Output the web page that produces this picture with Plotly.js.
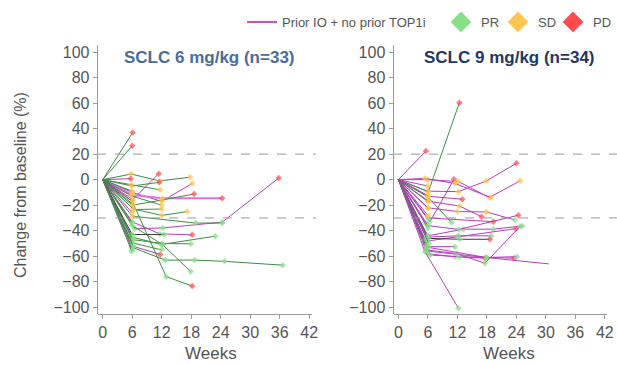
<!DOCTYPE html>
<html><head><meta charset="utf-8">
<script src="https://cdn.plot.ly/plotly-3.0.1.min.js"></script>
<style>html,body{margin:0;padding:0;background:#fff}#chart{width:617px;height:365px}</style>
</head><body><div id="chart"></div>
<script>
const weekTicks = [0, 6, 12, 18, 24, 30, 36, 42];
const pctTicks = [-100, -80, -60, -40, -20, 0, 20, 40, 60, 80, 100];
const refLines = [20, -30];
const panelTitles = ['SCLC 6 mg/kg (n=33)', 'SCLC 9 mg/kg (n=34)'];
const legendNames = ['Prior IO + no prior TOP1i', 'PR', 'SD', 'PD'];

// 6 mg/kg panel: one entry per patient (week, % change, response, group)
const leftWeeks = [
  [0,6.1],[0,6],[0,5.8,11.6,17.8],[0,5.7],[0,6.1,11.4],[0,5.9,11.5],[0,6,12,18.2],
  [0,6,12.2,24.3],[0,6,12,18.6],[0,6.2,12,17.2],[0,6.5,12.2,24.3,35.8],[0,6,18.9,24.3],
  [0,6,11.6,18.2],[0,6,11.9,22.9],[0,6.2,12,17.9],[0,6,11.7],[0,6,12.7,18.7,24.8,36.6],
  [0,6,12.2,17.9],[0,6,12.9,18.2],[0,5.8,11.7],[0,6],[0,5.7,12],[0,6],[0,6.2],
  [0,6.3,12],[0,6],[0,6],[0,6,12.5],[0,6],[0,6,12],[0,6.2],[0,6],[0,5.9]
];
const leftValues = [
  [0,37],[0,26.5],[0,4.4,-1,2],[0,0.8],[0,-15.6,4.7],[0,-5,-2.1],[0,-10,-17,-3],
  [0,-12,-14.5,-14.5],[0,-20,-16,-11.2],[0,-23,-28,-25],[0,-38.5,-37.8,-33.3,1.3],[0,-28.6,-34,-34],
  [0,-33,-42.5,-43.2],[0,-45,-50.8,-44.3],[0,-47,-50,-50.3],[0,-52,-58.6],[0,-53,-63,-63,-64,-67],
  [0,-36,-51,-72],[0,-17,-76,-83.3],[0,-3.9,-8],[0,-9.1],[0,-12.5,-20],[0,-16.9],[0,-19.5],
  [0,-23.4,-23],[0,-26],[0,-33.9],[0,-43,-43],[0,-46.9],[0,-49.5,-55],[0,-52],[0,-55],[0,-56]
];
const leftResp = [
  ['','PD'],['','PD'],['','SD','SD','SD'],['','PD'],['','SD','PD'],['','SD','PD'],['','SD','SD','SD'],
  ['','SD','SD','PD'],['','SD','SD','PD'],['','SD','SD','SD'],['','PR','PR','PR','PD'],['','SD','PR','PR'],
  ['','PR','PR','PD'],['','PR','PR','PR'],['','PR','PR','PR'],['','PR','PD'],['','PR','PR','PR','PR','PR'],
  ['','PR','PR','PR'],['','SD','PR','PD'],['','SD','SD'],['','SD'],['','SD','SD'],['','SD'],['','SD'],
  ['','SD','SD'],['','SD'],['','PR'],['','PR','PR'],['','PR'],['','PR','PR'],['','PR'],['','PR'],['','PR']
];
const leftGroup = [
  'other','other','other','prior','prior','other','prior',
  'pink','other','other','prior','other',
  'prior','other','other','prior','other',
  'other','other','other','other','other','prior','other',
  'other','prior','other','dark','other','other','other','prior','other'
];

// 9 mg/kg panel
const rightWeeks = [
  [0,5.8,12.2,17.9,24],[0,6,12.2,18.5,24.8],[0,6.4,11.3],[0,5.6],[0,6.1,12.4],[0,5.4,11.5,18.9],
  [0,6,13],[0,6,10.8],[0,6.2,12.4,16.9],[0,6,12,17.9,23.7],[0,6,19.3],[0,6,13.2,19.3,25.2],
  [0,6,23.9],[0,6,12.2,18.9],[0,6,12.5,18.6],[0,6,11.5],[0,6,11.5,17.6],[0,6.5,12.4,23.5],
  [0,6,17.9,24.1],[0,5.6,11.9,17.6,24.8],[0,6,17.9,30.6],[0,5.4,12.2],[0,6],[0,6],[0,6],
  [0,5.5],[0,6],[0,5.8],[0,5.4],[0,6.2],[0,5.6],[0,6],[0,6],[0,6,12.3,24.4]
];
const rightValues = [
  [0,-9,-9.4,-1,12.8],[0,0,-1.5,-14,-0.8],[0,-33,0.3],[0,22.5],[0,-9.4,60.3],[0,1,-3,-14.1],
  [0,-13,-15.3],[0,-13.6,-33.6],[0,-17,-20.6,-29],[0,-22,-25,-25.3,-31.6],[0,-30,-32.9],[0,-44,-38.8,-38.8,-36.3],
  [0,-48,-38.4],[0,-45,-44,-44],[0,-46,-46.7,-46.7],[0,-52.5,-52.5],[0,-58,-60.4,-61.5],[0,-59,-60.4,-61.5],
  [0,-56,-61,-60.3],[0,-55,-58,-65.5,-36.5],[0,-53,-61,-66],[0,-56.4,-100.7],[0,-12.5],[0,-17.2],[0,-22.4],
  [0,-34],[0,-38],[0,-44.6],[0,-47],[0,-50],[0,-52],[0,-28],[0,-5],[0,-36,-39,-27.9]
];
const rightResp = [
  ['','SD','SD','SD','PD'],['','SD','SD','SD','SD'],['','PR','PD'],['','PD'],['','SD','PD'],['','SD','SD','SD'],
  ['','SD','PD'],['','SD','PR'],['','SD','SD','PD'],['','SD','SD','SD','PR'],['','PR','PD'],['','PR','PR','PR','PR'],
  ['','PR','PD'],['','PR','PR','PR'],['','PR','PR','PD'],['','PR','PR'],['','PR','PR','PD'],['','PR','PR','PD'],
  ['','PR','PR','PR'],['','PR','PR','PR','PR'],['','PR','PR',''],['','PR','PR'],['','SD'],['','SD'],['','SD'],
  ['','PR'],['','PR'],['','PR'],['','PR'],['','PR'],['','PR'],['','SD'],['','SD'],['','PR','PR','PD']
];
const rightGroup = [
  'prior','prior','prior','prior','other','prior',
  'prior','other','prior','prior','prior','prior',
  'prior','prior','dark','prior','prior','prior',
  'prior','prior','prior','prior','prior','other','prior',
  'other','prior','other','prior','prior','other','prior','prior','prior'
];

const respColors = {PR: '#86e086', SD: '#ffc44f', PD: '#ff4b4b', '': 'rgba(0,0,0,0)'};
const groupStyle = {
  other: {color: '#3f8c45', width: 1},
  prior: {color: '#b43cbf', width: 1},
  pink:  {color: '#e56ee8', width: 2},
  dark:  {color: '#3b3b3b', width: 1}
};

function panelTraces(weeks, values, resp, group, xa, ya) {
  return weeks.map((w, i) => ({
    type: 'scatter', mode: 'lines+markers', x: w, y: values[i],
    xaxis: xa, yaxis: ya, showlegend: false, hoverinfo: 'skip',
    line: {color: groupStyle[group[i]].color, width: groupStyle[group[i]].width},
    marker: {symbol: 'diamond', size: resp[i].map(r => r ? 5 : 0),
             color: resp[i].map(r => respColors[r]), line: {width: 0}}
  }));
}

const traces = [].concat(
  panelTraces(leftWeeks, leftValues, leftResp, leftGroup, 'x', 'y'),
  panelTraces(rightWeeks, rightValues, rightResp, rightGroup, 'x2', 'y2')
);
traces.push({type: 'scatter', mode: 'lines', x: [null], y: [null], name: legendNames[0],
  line: {color: '#c84bcc', width: 2}, legend: 'legend', showlegend: true});
traces.push({type: 'scatter', mode: 'markers', x: [null], y: [null], name: legendNames[1],
  marker: {symbol: 'diamond', size: 16, color: respColors.PR}, legend: 'legend2', showlegend: true});
traces.push({type: 'scatter', mode: 'markers', x: [null], y: [null], name: legendNames[2],
  marker: {symbol: 'diamond', size: 16, color: respColors.SD}, legend: 'legend3', showlegend: true});
traces.push({type: 'scatter', mode: 'markers', x: [null], y: [null], name: legendNames[3],
  marker: {symbol: 'diamond', size: 16, color: respColors.PD}, legend: 'legend4', showlegend: true});

const W = 617, H = 365;
const font = 'Liberation Sans, Arial, sans-serif';
const px = v => v / W, py = v => 1 - v / H;
const tickFont = {family: font, size: 16, color: '#555'};

function xAxis(d0, d1) {
  return {domain: [px(d0), px(d1)], range: [-0.9, 42.5], tickvals: weekTicks,
    showline: true, linecolor: '#9a9a9a', linewidth: 1, ticks: 'outside', ticklen: 4,
    tickcolor: '#9a9a9a', showgrid: false, zeroline: false, tickfont: tickFont, fixedrange: true};
}
function yAxis(pos) {
  return {domain: [py(314), py(45)], range: [-105.25, 105.5], tickvals: pctTicks,
    anchor: 'free', position: px(pos), showline: true, linecolor: '#9a9a9a', linewidth: 1,
    ticks: 'outside', ticklen: 4, tickcolor: '#9a9a9a', showgrid: false, zeroline: false,
    tickfont: tickFont, fixedrange: true};
}
const legendBase = {orientation: 'h', yanchor: 'middle', y: py(22), xanchor: 'left',
  bgcolor: 'rgba(0,0,0,0)', borderwidth: 0, font: {family: font, size: 13, color: '#555'}};

const shapes = [];
refLines.forEach(v => {
  shapes.push({type: 'line', xref: 'paper', yref: 'y', x0: px(97), x1: px(316), y0: v, y1: v,
    line: {color: '#9a9a9a', width: 1, dash: 'dash'}});
  shapes.push({type: 'line', xref: 'paper', yref: 'y2', x0: px(393), x1: 1, y0: v, y1: v,
    line: {color: '#9a9a9a', width: 1, dash: 'dash'}});
});

function note(text, x, y, size, color, extra) {
  return Object.assign({text: text, x: px(x), y: py(y), xref: 'paper', yref: 'paper',
    xanchor: 'center', yanchor: 'middle', showarrow: false,
    font: {family: font, size: size, color: color}}, extra || {});
}

const layout = {
  width: W, height: H, margin: {l: 0, r: 0, t: 0, b: 0, autoexpand: false},
  paper_bgcolor: '#ffffff', plot_bgcolor: '#ffffff', showlegend: true,
  xaxis: xAxis(98.3, 311.7), yaxis: yAxis(96.7),
  xaxis2: Object.assign(xAxis(394, 607.3), {anchor: 'y2'}),
  yaxis2: yAxis(392.5),
  shapes: shapes,
  legend: Object.assign({}, legendBase, {x: px(242)}),
  legend2: Object.assign({}, legendBase, {x: px(441)}),
  legend3: Object.assign({}, legendBase, {x: px(498)}),
  legend4: Object.assign({}, legendBase, {x: 1, xanchor: 'right'}),
  annotations: [
    note('<b>' + panelTitles[0] + '</b>', 209, 57, 17, '#4a6d9c'),
    note('<b>' + panelTitles[1] + '</b>', 509, 57, 17, '#1f3864'),
    note('Change from baseline (%)', 20, 185, 16, '#555', {textangle: -90}),
    note('Weeks', 211, 353, 17, '#555'),
    note('Weeks', 509, 353, 17, '#555')
  ]
};

Plotly.newPlot('chart', traces, layout, {staticPlot: true, displayModeBar: false});
</script>
</body></html>
